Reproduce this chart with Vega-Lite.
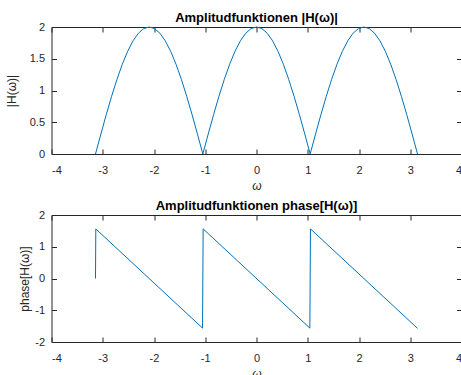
{
  "$schema": "https://vega.github.io/schema/vega-lite/v6.json",
  "padding": {"left": 4.5, "top": 11, "right": 0, "bottom": 0},
  "bounds": "flush",
  "spacing": 61,
  "datasets": {
    "amp": [
      {"w": -3.1416, "h": 0}, {"w": -3.0369, "h": 0.3129}, {"w": -2.9322, "h": 0.618}, {"w": -2.8274, "h": 0.908},
      {"w": -2.7227, "h": 1.1756}, {"w": -2.618, "h": 1.4142}, {"w": -2.5133, "h": 1.618}, {"w": -2.4086, "h": 1.782},
      {"w": -2.3038, "h": 1.9021}, {"w": -2.1991, "h": 1.9754}, {"w": -2.0944, "h": 2.0}, {"w": -1.9897, "h": 1.9754},
      {"w": -1.885, "h": 1.9021}, {"w": -1.7802, "h": 1.782}, {"w": -1.6755, "h": 1.618}, {"w": -1.5708, "h": 1.4142},
      {"w": -1.4661, "h": 1.1756}, {"w": -1.3614, "h": 0.908}, {"w": -1.2566, "h": 0.618}, {"w": -1.1519, "h": 0.3129},
      {"w": -1.0472, "h": 0}, {"w": -0.9425, "h": 0.3129}, {"w": -0.8378, "h": 0.618}, {"w": -0.733, "h": 0.908},
      {"w": -0.6283, "h": 1.1756}, {"w": -0.5236, "h": 1.4142}, {"w": -0.4189, "h": 1.618}, {"w": -0.3142, "h": 1.782},
      {"w": -0.2094, "h": 1.9021}, {"w": -0.1047, "h": 1.9754}, {"w": 0, "h": 2.0}, {"w": 0.1047, "h": 1.9754},
      {"w": 0.2094, "h": 1.9021}, {"w": 0.3142, "h": 1.782}, {"w": 0.4189, "h": 1.618}, {"w": 0.5236, "h": 1.4142},
      {"w": 0.6283, "h": 1.1756}, {"w": 0.733, "h": 0.908}, {"w": 0.8378, "h": 0.618}, {"w": 0.9425, "h": 0.3129},
      {"w": 1.0472, "h": 0}, {"w": 1.1519, "h": 0.3129}, {"w": 1.2566, "h": 0.618}, {"w": 1.3614, "h": 0.908},
      {"w": 1.4661, "h": 1.1756}, {"w": 1.5708, "h": 1.4142}, {"w": 1.6755, "h": 1.618}, {"w": 1.7802, "h": 1.782},
      {"w": 1.885, "h": 1.9021}, {"w": 1.9897, "h": 1.9754}, {"w": 2.0944, "h": 2.0}, {"w": 2.1991, "h": 1.9754},
      {"w": 2.3038, "h": 1.9021}, {"w": 2.4086, "h": 1.782}, {"w": 2.5133, "h": 1.618}, {"w": 2.618, "h": 1.4142},
      {"w": 2.7227, "h": 1.1756}, {"w": 2.8274, "h": 0.908}, {"w": 2.9322, "h": 0.618}, {"w": 3.0369, "h": 0.3129},
      {"w": 3.1416, "h": 0}
    ],
    "phase": [
      {"w": -3.1416, "p": 0},
      {"w": -3.1355, "p": 1.5617},
      {"w": -1.0533, "p": -1.5617},
      {"w": -1.0411, "p": 1.5617},
      {"w": 1.0411, "p": -1.5617},
      {"w": 1.0533, "p": 1.5617},
      {"w": 3.1416, "p": -1.5708}
    ]
  },
  "vconcat": [
    {
      "width": 410,
      "height": 127,
      "title": "Amplitudfunktionen |H(ω)|",
      "data": {"name": "amp"},
      "layer": [
        {
          "mark": {"type": "line", "color": "#0072BD", "strokeWidth": 1},
          "encoding": {
            "x": {"field": "w", "type": "quantitative", "scale": {"domain": [-4, 4], "nice": false},
                  "axis": {"values": [-4, -3, -2, -1, 0, 1, 2, 3, 4], "title": "ω", "titleFontStyle": "italic", "labelPadding": 15, "titlePadding": 5}},
            "y": {"field": "h", "type": "quantitative", "scale": {"domain": [0, 2], "nice": false},
                  "axis": {"values": [0, 0.5, 1, 1.5, 2], "title": "|H(ω)|", "labelPadding": 12, "titlePadding": 11}}
          }
        },
        {
          "mark": {"type": "line", "opacity": 0},
          "encoding": {
            "x": {"field": "w", "type": "quantitative",
                  "axis": {"orient": "top", "values": [-4, -3, -2, -1, 0, 1, 2, 3, 4], "labels": false, "title": null}},
            "y": {"field": "h", "type": "quantitative",
                  "axis": {"orient": "right", "values": [0, 0.5, 1, 1.5, 2], "labels": false, "title": null}}
          }
        }
      ],
      "resolve": {"axis": {"x": "independent", "y": "independent"}}
    },
    {
      "width": 410,
      "height": 127,
      "title": "Amplitudfunktionen phase[H(ω)]",
      "data": {"name": "phase"},
      "layer": [
        {
          "mark": {"type": "line", "color": "#0072BD", "strokeWidth": 1},
          "encoding": {
            "x": {"field": "w", "type": "quantitative", "scale": {"domain": [-4, 4], "nice": false},
                  "axis": {"values": [-4, -3, -2, -1, 0, 1, 2, 3, 4], "title": "ω", "titleFontStyle": "italic", "labelPadding": 15, "titlePadding": 5}},
            "y": {"field": "p", "type": "quantitative", "scale": {"domain": [-2, 2], "nice": false},
                  "axis": {"values": [-2, -1, 0, 1, 2], "title": "phase[H(ω)]", "labelPadding": 12, "titlePadding": 3}}
          }
        },
        {
          "mark": {"type": "line", "opacity": 0},
          "encoding": {
            "x": {"field": "w", "type": "quantitative",
                  "axis": {"orient": "top", "values": [-4, -3, -2, -1, 0, 1, 2, 3, 4], "labels": false, "title": null}},
            "y": {"field": "p", "type": "quantitative",
                  "axis": {"orient": "right", "values": [-2, -1, 0, 1, 2], "labels": false, "title": null}}
          }
        }
      ],
      "resolve": {"axis": {"x": "independent", "y": "independent"}}
    }
  ],
  "config": {
    "font": "Liberation Sans",
    "view": {"stroke": "#262626", "strokeWidth": 1},
    "axis": {
      "format": "~g",
      "labelExpr": "replace(datum.label, '−', '-')",
      "labelFont": "Liberation Sans",
      "labelFontSize": 11,
      "labelColor": "#262626",
      "domain": false,
      "tickColor": "#262626",
      "tickSize": -5,
      "grid": false,
      "titleFont": "Liberation Sans",
      "titleFontSize": 12,
      "titleFontWeight": "normal",
      "titleColor": "#262626"
    },
    "title": {"font": "Liberation Sans", "fontSize": 13, "fontWeight": "bold", "color": "#000000", "offset": -4, "anchor": "middle"}
  }
}
